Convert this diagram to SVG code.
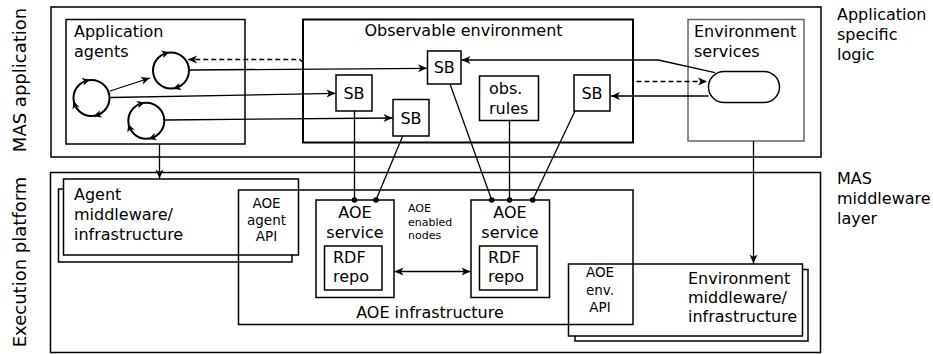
<svg xmlns="http://www.w3.org/2000/svg" xmlns:xlink="http://www.w3.org/1999/xlink" width="933" height="354" viewBox="0 0 933 354">
<style>
text{font-family:"DejaVu Sans","Liberation Sans",sans-serif;fill:#000}
.t16{font-size:16px}
.t18{font-size:18px}
.t13{font-size:13.5px}
.t11{font-size:11px}
.mid{text-anchor:middle}
.box{fill:none;stroke:#000;stroke-width:1.5}
.wbox{fill:#fff;stroke:#000;stroke-width:1.5}
.thick{fill:none;stroke:#000;stroke-width:2}
.gray{fill:none;stroke:#666;stroke-width:1.5}
.ln{fill:none;stroke:#000;stroke-width:1.3}
.dash{fill:none;stroke:#000;stroke-width:1.3;stroke-dasharray:5,3}
.arr{marker-end:url(#ah)}
.circ{fill:none;stroke:#000;stroke-width:2}
</style>
<defs>
<marker id="ah" markerUnits="userSpaceOnUse" viewBox="-10 -6 12 12" refX="0" refY="0" markerWidth="12" markerHeight="12" orient="auto-start-reverse">
<path d="M0,0 L-9,-4 L-6.5,0 L-9,4 Z" fill="#000"/>
</marker>
<path id="cyc" d="M3.5,0 L-4.5,-3.8 L-2.3,0 L-4.5,3.8 Z" fill="#000"/>
</defs>

<g id="layer-app">
<rect class="box" x="51" y="7" width="770" height="150"/>
<text class="t18 mid" transform="translate(26,80) rotate(-90)">MAS application</text>
<text class="t16" x="837" y="20">Application</text>
<text class="t16" x="837" y="40">specific</text>
<text class="t16" x="837" y="60">logic</text>
</g>

<g id="layer-exec">
<rect class="box" x="50.5" y="172.5" width="770" height="180"/>
<text class="t18 mid" transform="translate(26,262) rotate(-90)">Execution platform</text>
<text class="t16" x="837" y="183.5">MAS</text>
<text class="t16" x="837" y="203.5">middleware</text>
<text class="t16" x="837" y="223.5">layer</text>
</g>

<g id="app-agents">
<rect class="box" x="66" y="19.5" width="179" height="124.5"/>
<text class="t16" x="74" y="37">Application</text>
<text class="t16" x="74" y="57">agents</text>
</g>

<g id="agent-a">
<circle class="circ" cx="91.5" cy="98" r="18"/>
<use xlink:href="#cyc" transform="translate(86.8,80.6) rotate(-15)"/>
<use xlink:href="#cyc" transform="translate(74.6,104.2) rotate(250)"/>
<use xlink:href="#cyc" transform="translate(96.8,115.2) rotate(163)"/>
</g>
<g id="agent-b">
<circle class="circ" cx="171" cy="70.5" r="18"/>
<use xlink:href="#cyc" transform="translate(166.3,53.1) rotate(-15)"/>
<use xlink:href="#cyc" transform="translate(176.3,87.7) rotate(163)"/>
</g>
<g id="agent-c">
<circle class="circ" cx="146.3" cy="120.8" r="18"/>
<use xlink:href="#cyc" transform="translate(141.6,103.4) rotate(-15)"/>
<use xlink:href="#cyc" transform="translate(129.4,127) rotate(250)"/>
<use xlink:href="#cyc" transform="translate(151.6,138) rotate(163)"/>
</g>

<g id="obs-env">
<rect class="thick" x="303" y="19.5" width="330" height="123"/>
<text class="t16 mid" x="463.5" y="36">Observable environment</text>
</g>

<g id="sb1">
<rect class="box" x="427.5" y="51" width="33.5" height="33"/>
<text class="t16 mid" x="444.2" y="73.3">SB</text>
</g>
<g id="sb2">
<rect class="box" x="336" y="75" width="36" height="36"/>
<text class="t16 mid" x="354" y="98.8">SB</text>
</g>
<g id="sb3">
<rect class="box" x="393" y="99.5" width="36" height="36.5"/>
<text class="t16 mid" x="411" y="123.5">SB</text>
</g>
<g id="sb4">
<rect class="box" x="574" y="75" width="36" height="36"/>
<text class="t16 mid" x="592" y="98.8">SB</text>
</g>
<g id="obs-rules">
<rect class="box" x="479.5" y="76" width="59" height="44.5"/>
<text class="t16" x="489" y="94">obs.</text>
<text class="t16" x="489" y="114">rules</text>
</g>

<g id="env-services">
<rect class="gray" x="688" y="19.5" width="116" height="121.5"/>
<text class="t16" x="694" y="37">Environment</text>
<text class="t16" x="694" y="57">services</text>
<rect class="box" x="708.5" y="71.5" width="71" height="31" rx="15.5" ry="15.5" fill="#fff"/>
</g>

<g id="agent-mw">
<rect class="box" x="58.5" y="189" width="233.5" height="73"/>
<rect class="wbox" x="63.5" y="179" width="235" height="76"/>
<text class="t16" x="74" y="200">Agent</text>
<text class="t16" x="74" y="220">middleware/</text>
<text class="t16" x="74" y="240">infrastructure</text>
</g>

<g id="env-mw">
<rect class="box" x="575" y="269.5" width="233" height="71.5"/>
<rect class="wbox" x="568.5" y="264" width="234" height="72"/>
<text class="t16" x="688" y="284">Environment</text>
<text class="t16" x="688" y="303">middleware/</text>
<text class="t16" x="688" y="322">infrastructure</text>
</g>

<g id="aoe-infra">
<rect class="box" x="238.5" y="190" width="394.5" height="134.5"/>
<text class="t16 mid" x="430" y="318">AOE infrastructure</text>
<text class="t13 mid" x="266.5" y="208">AOE</text>
<text class="t13 mid" x="266.5" y="224.5">agent</text>
<text class="t13 mid" x="266.5" y="241">API</text>
<text class="t13 mid" x="600" y="277">AOE</text>
<text class="t13 mid" x="600" y="295">env.</text>
<text class="t13 mid" x="600" y="311.5">API</text>
<text class="t11" x="408" y="211.5">AOE</text>
<text class="t11" x="408" y="225.5">enabled</text>
<text class="t11" x="408" y="239">nodes</text>
</g>

<g id="aoe-service-1">
<rect class="box" x="316" y="200" width="78" height="97.5"/>
<text class="t16 mid" x="355" y="218">AOE</text>
<text class="t16 mid" x="355" y="238">service</text>
<rect class="box" x="324.5" y="246" width="57.5" height="44"/>
<text class="t16" x="333" y="263">RDF</text>
<text class="t16" x="333" y="282">repo</text>
</g>
<g id="aoe-service-2">
<rect class="box" x="471" y="200" width="78.5" height="97.5"/>
<text class="t16 mid" x="510" y="218">AOE</text>
<text class="t16 mid" x="510" y="238">service</text>
<rect class="box" x="479.5" y="246" width="57.5" height="44"/>
<text class="t16" x="488" y="263">RDF</text>
<text class="t16" x="488" y="282">repo</text>
</g>

<g id="connectors">
<path class="ln arr" d="M110,91 L150,78"/>
<path class="ln arr" d="M189,70 L427,68.3"/>
<path class="ln arr" d="M110.5,97.5 L335.5,93.3"/>
<path class="ln arr" d="M165,120 L392.5,118"/>
<path class="dash arr" d="M303,62.5 L300,59.5 L188,59.5"/>
<path class="ln arr" d="M715,72.7 L658.3,60 L461.5,60"/>
<path class="dash arr" d="M636.5,81.5 L707,81.5"/>
<path class="ln arr" d="M708.5,96 L611,96"/>
<path class="ln arr" d="M159.5,144 L159.5,178.5"/>
<path class="ln arr" d="M753.5,141 L753.5,263.5"/>
<path class="ln" d="M354.5,111 L354.5,200"/>
<path class="ln" d="M402.7,136 L376,200"/>
<path class="ln" d="M450,84 L491.7,200"/>
<path class="ln" d="M509.5,120.5 L509.5,200"/>
<path class="ln" d="M575,111 L532.7,200"/>
<path class="ln" d="M394.5,271.5 L470.5,271.5" marker-start="url(#ah)" marker-end="url(#ah)"/>
<circle cx="354.5" cy="200" r="2.8"/>
<circle cx="376" cy="200" r="2.8"/>
<circle cx="491.7" cy="200" r="2.8"/>
<circle cx="509.5" cy="200" r="2.8"/>
<circle cx="532.7" cy="200" r="2.8"/>
</g>
</svg>
